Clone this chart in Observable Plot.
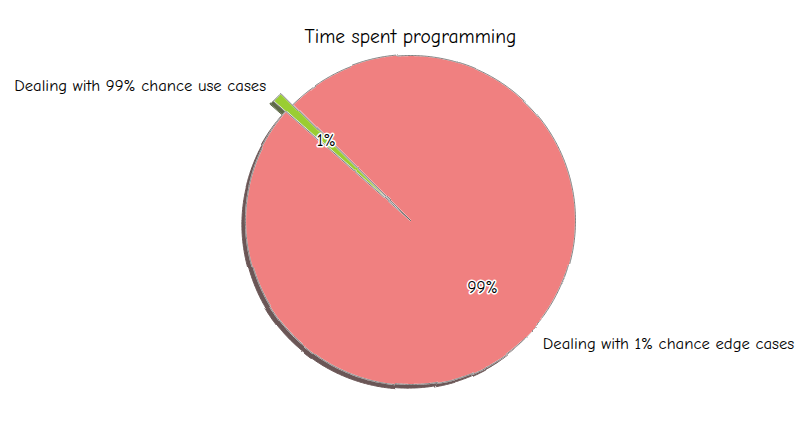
<!DOCTYPE html>
<html>
<head>
<meta charset="utf-8">
<script src="https://cdn.jsdelivr.net/npm/d3@7"></script>
<script src="https://cdn.jsdelivr.net/npm/@observablehq/plot@0.6"></script>
<style>
  html, body { margin: 0; padding: 0; background: #fff; }
  #chart svg { display: block; }
</style>
</head>
<body>
<div id="chart"></div>
<script>
// ---- data ----
const title = "Time spent programming";
const sliceLabels = ["Dealing with 99% chance use cases", "Dealing with 1% chance edge cases"];
const shares = [1, 99];
const sliceColors = ["#9acd32", "#f08080"];
const shadowColors = ["#5e6b48", "#6b5656"];
const explode = [0.1, 0];

// ---- layout ----
const W = 800, H = 441;
const cx = 410, cy = 220, R = 165;       // pie centre and radius in pixels
const startAngle = 135;                   // degrees, counter-clockwise
const labelDistance = 1.1, pctDistance = 0.6, shadowOffset = 0.022;
const font = "'Humor Sans','Comic Neue','Comic Sans MS',Lato,sans-serif";

const total = d3.sum(shares);
const wedges = [];
const shadows = [];
const labelRows = [];
let cum = 0;
shares.forEach((s, i) => {
  const a0 = startAngle + 360 * cum / total;
  const a1 = a0 + 360 * s / total;
  cum += s;
  const mid = (a0 + a1) / 2 * Math.PI / 180;
  const ox = explode[i] * Math.cos(mid), oy = explode[i] * Math.sin(mid);
  const pts = [[ox, oy]];
  const n = Math.max(2, Math.ceil((a1 - a0) / 0.5));
  for (let k = 0; k <= n; k++) {
    const a = (a0 + (a1 - a0) * k / n) * Math.PI / 180;
    pts.push([ox + Math.cos(a), oy + Math.sin(a)]);
  }
  pts.forEach(([x, y], j) => {
    wedges.push({id: i, j, x, y, color: sliceColors[i]});
    shadows.push({id: i, j, x: x - shadowOffset, y: y - shadowOffset, color: shadowColors[i]});
  });
  const cosm = Math.cos(mid), sinm = Math.sin(mid);
  labelRows.push({
    id: i,
    lx: ox + labelDistance * cosm, ly: oy + labelDistance * sinm,
    px: ox + pctDistance * cosm, py: oy + pctDistance * sinm,
    label: sliceLabels[i], pct: `${s}%`,
    anchor: cosm < 0 ? "end" : "start"
  });
});

const xDomain = [(0 - cx) / R, (W - cx) / R];
const yDomain = [(cy - H) / R, cy / R];

const marks = [
  Plot.line(shadows, {x: "x", y: "y", z: "id", fill: "color", stroke: "color", strokeWidth: 1, curve: "linear-closed"})
];
sliceColors.forEach((c, i) => {
  const wd = wedges.filter(d => d.id === i);
  marks.push(Plot.line(wd, {x: "x", y: "y", fill: "color", stroke: "white", strokeWidth: 1.2, curve: "linear-closed"}));
  marks.push(Plot.line(wd, {x: "x", y: "y", fill: "none", stroke: "#4a4a4a", strokeWidth: 0.7, curve: "linear-closed"}));
});
marks.push(
  Plot.text(labelRows.filter(d => d.anchor === "end"), {x: "lx", y: "ly", dy: 1, text: "label", textAnchor: "end", fontSize: 16.7, fill: "black", fontFamily: font}),
  Plot.text(labelRows.filter(d => d.anchor === "start"), {x: "lx", y: "ly", dy: -1, text: "label", textAnchor: "start", fontSize: 16.7, fill: "black", fontFamily: font}),
  Plot.text(labelRows, {x: "px", y: "py", dy: -1, text: "pct", fontSize: 17, fill: "black", stroke: "white", strokeWidth: 3, fontFamily: font}),
  Plot.text([title], {x: [0], frameAnchor: "top", dy: 36, text: d => d, fontSize: 19.5, fill: "black", fontFamily: font, lineAnchor: "middle"})
);

const svg = Plot.plot({
  width: W, height: H,
  margin: 0,
  x: {domain: xDomain, axis: null},
  y: {domain: yDomain, axis: null},
  color: {type: "identity"},
  style: {background: "white", fontFamily: font},
  marks
});

// xkcd-like hand-drawn wobble on the wedges
const ns = "http://www.w3.org/2000/svg";
const defs = document.createElementNS(ns, "defs");
defs.innerHTML = `<filter id="wobble" x="-5%" y="-5%" width="110%" height="110%">
  <feTurbulence type="fractalNoise" baseFrequency="0.012" numOctaves="1" seed="4" result="noise"/>
  <feDisplacementMap in="SourceGraphic" in2="noise" scale="4" xChannelSelector="R" yChannelSelector="G"/>
</filter>`;
svg.insertBefore(defs, svg.firstChild);
d3.select(svg).selectAll("g[aria-label='line']").attr("filter", "url(#wobble)");

document.getElementById("chart").appendChild(svg);
</script>
</body>
</html>
